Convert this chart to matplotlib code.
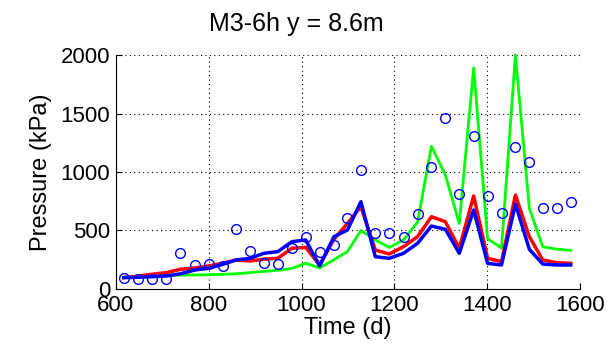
import numpy as np
import matplotlib.pyplot as plt

# time of each reading (d)
t = [617, 648, 678, 709, 739, 770, 800, 830, 859, 889, 919, 949, 979, 1009,
     1039, 1070, 1099, 1128, 1159, 1189, 1220, 1250, 1280, 1310, 1340, 1371,
     1401, 1431, 1461, 1491, 1520, 1550, 1580]

# measured pressure (kPa)
measured = [97, 88, 88, 88, 310, 202, 211, 197, 513, 327, 220, 211, 348, 442,
            319, 376, 604, 1017, 481, 481, 442, 638, 1046, 1464, 812, 1310,
            795, 647, 1211, 1083, 695, 695, 746]

# model results (kPa)
green = [100, 105, 110, 115, 118, 120, 122, 125, 130, 140, 150, 160, 175, 220,
         180, 250, 320, 500, 420, 355, 420, 570, 1220, 975, 560, 1890,
         430, 350, 2000, 690, 360, 340, 330]
red = [97, 110, 126, 140, 168, 180, 197, 220, 248, 239, 255, 262, 348, 356,
       205, 425, 561, 703, 333, 299, 362, 447, 618, 575, 348, 795,
       262, 234, 803, 447, 248, 225, 219]
blue = [97, 100, 105, 111, 130, 162, 177, 210, 248, 262, 305, 319, 404, 419,
        197, 447, 504, 746, 276, 262, 305, 390, 538, 510, 305, 675,
        219, 205, 726, 339, 213, 205, 205]

plt.rcParams['font.family'] = ['Liberation Sans', 'DejaVu Sans']

fig = plt.figure(figsize=(6.1, 3.55), dpi=100)
ax = fig.add_axes([0.190, 0.186, 0.7607, 0.659])

ax.plot(t, green, color=(0, 1, 0), lw=2.0, clip_on=False)
ax.plot(t, red, color=(1, 0, 0), lw=2.5)
ax.plot(t, blue, color=(0, 0, 1), lw=2.5)
ax.plot(t, measured, 'o', mfc='none', mec=(0, 0, 1), ms=7, mew=1.0)

ax.set_xlim(600, 1600)
ax.set_ylim(0, 2000)
ax.set_xticks([600, 800, 1000, 1200, 1400, 1600])
ax.set_yticks([0, 500, 1000, 1500, 2000])
ax.grid(True, color='black', linestyle=(0, (1, 3)), linewidth=0.8)
for s in ['top', 'right']:
    ax.spines[s].set_visible(False)
for s in ['left', 'bottom']:
    ax.spines[s].set_linewidth(0.8)
ax.tick_params(direction='in', length=4, labelsize=16, pad=4)

ax.set_xlabel('Time (d)', fontsize=17, labelpad=1)
ax.set_ylabel('Pressure (kPa)', fontsize=17, labelpad=6)
fig.text(296 / 610, 1 - 24 / 355, 'M3-6h y = 8.6m', fontsize=18,
         ha='center', va='center')

fig.savefig('out.png', dpi=100)
